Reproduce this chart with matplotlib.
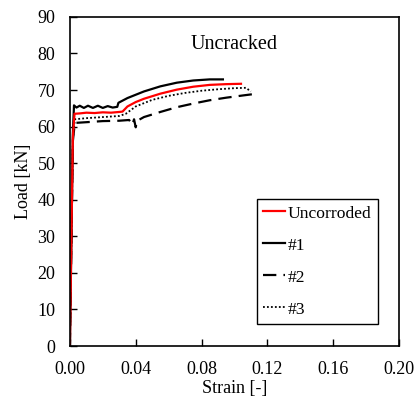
import matplotlib
matplotlib.use("Agg")
import matplotlib.pyplot as plt

plt.rcParams['font.family'] = ['Liberation Serif', 'DejaVu Serif']

# Load-strain curves (strain [-], load [kN])
uncorroded_strain = [0.0, 0.0018, 0.0028, 0.006, 0.010, 0.015, 0.020, 0.025, 0.030, 0.032,
                     0.035, 0.040, 0.045, 0.055, 0.065, 0.075, 0.085, 0.095, 0.104]
uncorroded_load = [0.0, 57.0, 63.5, 63.6, 63.8, 63.7, 63.9, 63.8, 64.0, 64.1,
                   65.5, 66.7, 67.6, 69.0, 70.1, 70.9, 71.4, 71.6, 71.7]

s1_strain = [0.0, 0.0018, 0.0025, 0.004, 0.006, 0.0085, 0.011, 0.014, 0.017, 0.020,
             0.023, 0.026, 0.0288, 0.0295, 0.035, 0.045, 0.055, 0.065, 0.075, 0.085, 0.093]
s1_load = [0.0, 58.0, 65.8, 65.2, 65.7, 65.1, 65.7, 65.1, 65.7, 65.1,
           65.6, 65.2, 65.4, 66.5, 67.8, 69.6, 71.0, 72.0, 72.6, 72.9, 72.9]

s2_strain = [0.0, 0.0018, 0.003, 0.010, 0.020, 0.030, 0.036, 0.038, 0.039, 0.040,
             0.041, 0.045, 0.055, 0.065, 0.075, 0.085, 0.095, 0.105, 0.112]
s2_load = [0.0, 56.0, 61.0, 61.2, 61.5, 61.6, 61.8, 60.5, 62.0, 59.8,
           61.6, 62.6, 64.0, 65.3, 66.3, 67.2, 67.9, 68.5, 68.9]

s3_strain = [0.0, 0.0018, 0.003, 0.010, 0.020, 0.030, 0.034, 0.040, 0.050, 0.060,
             0.070, 0.080, 0.090, 0.100, 0.107, 0.110]
s3_load = [0.0, 56.5, 62.0, 62.3, 62.6, 62.9, 63.5, 65.5, 67.3, 68.4,
           69.2, 69.8, 70.2, 70.5, 70.6, 69.6]

x_ticks = [0.00, 0.04, 0.08, 0.12, 0.16, 0.20]
y_ticks = list(range(0, 100, 10))

fig = plt.figure(figsize=(4.16, 4.01), dpi=100)
ax = fig.add_axes([0.168, 0.137, 0.791, 0.821])

ax.plot(s3_strain, s3_load, color='black', lw=1.3, linestyle=(0, (1, 1.2)), label='#3')
ax.plot(s2_strain, s2_load, color='black', lw=1.6, linestyle=(0, (6, 3.2)), label='#2')
ax.plot(s1_strain, s1_load, color='black', lw=1.6, label='#1')
ax.plot(uncorroded_strain, uncorroded_load, color='red', lw=1.6, label='Uncorroded')

ax.set_xlim(0, 0.20)
ax.set_ylim(0, 90)
ax.set_xticks(x_ticks)
ax.set_xticklabels([f"{v:.2f}" for v in x_ticks])
ax.set_yticks(y_ticks)
ax.tick_params(direction='in', length=5, width=1, labelsize=13, top=False, right=False)
ax.tick_params(axis='x', pad=11)
ax.tick_params(axis='y', pad=10.5)
for sp in ax.spines.values():
    sp.set_linewidth(1.2)

ax.set_xlabel('Strain [-]', fontsize=13, labelpad=1)
ax.set_ylabel('Load [kN]', fontsize=13, labelpad=4)
ax.text(0.5, 0.915, 'Uncracked', transform=ax.transAxes, ha='center', va='center', fontsize=14.5)

handles, labels = ax.get_legend_handles_labels()
order = [3, 2, 1, 0]
leg = ax.legend([handles[i] for i in order], [labels[i] for i in order],
                loc='upper left', bbox_to_anchor=(0.568, 0.446), fontsize=12.6,
                frameon=True, fancybox=False, edgecolor='black', framealpha=1,
                handlelength=1.26, handletextpad=0.17, labelspacing=0.9,
                borderpad=0.35, borderaxespad=0)
leg.get_frame().set_linewidth(1.0)

fig.savefig('out.png', dpi=100)
